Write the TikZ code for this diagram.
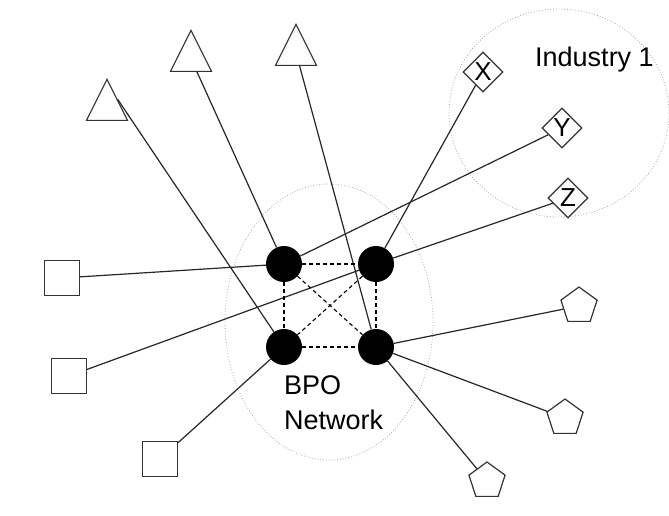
\documentclass[tikz,border=0pt]{standalone}
\usepackage{fontspec}
\setmainfont{Liberation Sans}
\usetikzlibrary{shapes.geometric}
\begin{document}
\begin{tikzpicture}[x=1pt,y=-1pt,
 hub/.style={circle,fill=black,minimum size=36pt,inner sep=0},
 link/.style={line width=1.2pt,draw=black!85},
 mesh/.style={line width=1.1pt,dash pattern=on 4pt off 3pt},
 tri/.style={isosceles triangle,isosceles triangle stretches,shape border rotate=90,minimum width=41pt,minimum height=41pt,draw=black!80,line width=1.2pt,fill=white,inner sep=0},
 sq/.style={rectangle,minimum size=35pt,draw=black!80,fill=white,inner sep=0,line width=1.2pt},
 pent/.style={regular polygon,regular polygon sides=5,minimum size=38pt,draw=black!80,fill=white,inner sep=0,line width=1.2pt},
 dia/.style={diamond,minimum size=40pt,draw=black!80,fill=white,inner sep=0,line width=1.2pt,font=\fontsize{26}{26}\selectfont},
 region/.style={draw=gray!70,dotted,line width=0.8pt},
 lbl/.style={font=\fontsize{27}{35}\selectfont,inner sep=0}]
\useasboundingbox (0,0) rectangle (669,516);
% regions
\draw[region] (329,322) ellipse (104 and 138);
\draw[region] (559,113) ellipse (110 and 104);
% hubs
\node[hub] (tl) at (284,264) {};
\node[hub] (tr) at (376,264) {};
\node[hub] (bl) at (284,347) {};
\node[hub] (br) at (376,347) {};
% triangles
\node[tri,anchor=south] (t1) at (107,121) {};
\node[tri,anchor=south] (t2) at (191,72) {};
\node[tri,anchor=south] (t3) at (296,66) {};
% squares
\node[sq] (s1) at (62,278) {};
\node[sq] (s2) at (69,376) {};
\node[sq] (s3) at (160,459) {};
% pentagons
\node[pent] (p1) at (579,306) {};
\node[pent] (p2) at (565,418) {};
\node[pent] (p3) at (487,481) {};
% diamonds
\node[dia] (x) at (483,72) {X};
\node[dia] (y) at (562,128) {Y};
\node[dia] (z) at (568,198) {Z};
% labels
\node[lbl,anchor=base west] (ind) at (535,67) {Industry 1};
\node[lbl,anchor=north west,align=left] (bpo) at (284,375) {BPO\\Network};
% connectors
\draw[link] (t1.right side) -- (bl);
\draw[link] (t2) -- (tl);
\draw[link] (t3) -- (br);
\draw[link] (s1) -- (tl);
\draw[link] (s2) -- (tr);
\draw[link] (s3) -- (bl);
\draw[link] (tl) -- (y);
\draw[link] (tr) -- (x);
\draw[link] (tr) -- (z);
\draw[link] (br) -- (p1);
\draw[link] (br) -- (p2);
\draw[link] (br) -- (p3);
% mesh
\draw[mesh] (tl) -- (tr);
\draw[mesh] (tl) -- (bl);
\draw[mesh] (tr) -- (br);
\draw[mesh] (bl) -- (br);
\draw[mesh] (tl) -- (br);
\draw[mesh] (tr) -- (bl);
\end{tikzpicture}
\end{document}
